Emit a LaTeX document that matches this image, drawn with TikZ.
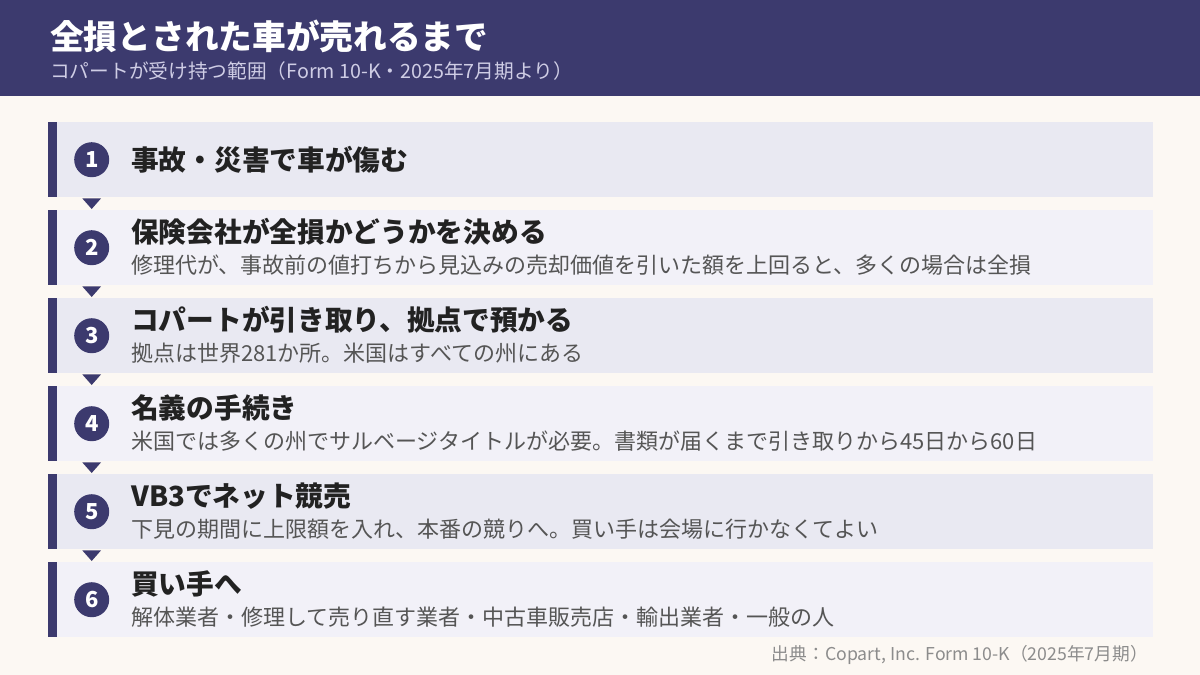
\documentclass[tikz,border=0pt]{standalone}
\usepackage{fontspec}
\setmainfont{Noto Sans CJK JP}
\usetikzlibrary{calc}
\definecolor{navy}{HTML}{3C3A6E}
\definecolor{rowA}{HTML}{E9E9F2}
\definecolor{rowB}{HTML}{F2F1F8}
\definecolor{bgc}{HTML}{FCF8F3}
\definecolor{hsub}{HTML}{CFCDE5}
\definecolor{ttlc}{HTML}{222222}
\definecolor{subc}{HTML}{555555}
\definecolor{footc}{HTML}{8C8C8C}
\tikzset{
  rowbox/.style={draw=none, rectangle, minimum width=1105, minimum height=75, anchor=north west, inner sep=0},
  numc/.style={circle, fill=navy, minimum size=35, inner sep=0, text=white, font=\bfseries\fontsize{22}{24}\selectfont},
  ttl/.style={anchor=west, inner sep=0, text=ttlc, font=\bfseries\fontsize{27.7}{32}\selectfont},
  subt/.style={anchor=west, inner sep=0, text=subc, font=\fontsize{22}{26}\selectfont},
  tri/.style={fill=navy}
}
\begin{document}
\begin{tikzpicture}[x=1pt,y=-1pt]
\useasboundingbox (0,0) rectangle (1200,675);
\fill[bgc] (0,0) rectangle (1200,675);
\fill[navy] (0,0) rectangle (1200,96);
\node[anchor=west, inner sep=0, text=white, font=\bfseries\fontsize{33.7}{40}\selectfont] (title) at (50,36) {全損とされた車が売れるまで};
\node[anchor=west, inner sep=0, text=hsub, font=\fontsize{19.7}{23}\selectfont] (subtitle) at (50,71) {コパートが受け持つ範囲（Form 10-K・2025年7月期より）};
% rows
\foreach \i/\c in {1/rowA,2/rowB,3/rowA,4/rowB,5/rowA,6/rowB}{
  \node[rowbox, fill=\c] (r\i) at (48,{122+88*(\i-1)}) {};
  \fill[navy] (r\i.north west) rectangle ($(r\i.south west)+(8.7,0)$);
  \node[numc] (c\i) at ($(r\i.west)+(43.7,0)$) {\i};
}
% connectors
\foreach \i [evaluate=\i as \j using int(\i+1)] in {1,...,5}{
  \fill[tri] ($(r\i.south west)+(34.3,1)$) -- ($(r\i.south west)+(53,1)$) -- ($(r\j.north west)+(43.7,-1)$) -- cycle;
}
% texts
\node[ttl] (t1) at ($(r1.west)+(83,0)$) {事故・災害で車が傷む};
\node[ttl] (t2) at ($(r2.north west)+(83,22)$) {保険会社が全損かどうかを決める};
\node[subt] (s2) at ($(r2.north west)+(83,55)$) {修理代が、事故前の値打ちから見込みの売却価値を引いた額を上回ると、多くの場合は全損};
\node[ttl] (t3) at ($(r3.north west)+(83,22)$) {コパートが引き取り、拠点で預かる};
\node[subt] (s3) at ($(r3.north west)+(83,55)$) {拠点は世界281か所。米国はすべての州にある};
\node[ttl] (t4) at ($(r4.north west)+(83,22)$) {名義の手続き};
\node[subt] (s4) at ($(r4.north west)+(83,55)$) {米国では多くの州でサルベージタイトルが必要。書類が届くまで引き取りから45日から60日};
\node[ttl] (t5) at ($(r5.north west)+(83,22)$) {VB3でネット競売};
\node[subt] (s5) at ($(r5.north west)+(83,55)$) {下見の期間に上限額を入れ、本番の競りへ。買い手は会場に行かなくてよい};
\node[ttl] (t6) at ($(r6.north west)+(83,22)$) {買い手へ};
\node[subt] (s6) at ($(r6.north west)+(83,55)$) {解体業者・修理して売り直す業者・中古車販売店・輸出業者・一般の人};
% footer
\node[anchor=east, inner sep=0, text=footc, font=\fontsize{17.7}{21}\selectfont] (foot) at (1148,655) {出典：Copart, Inc. Form 10-K（2025年7月期）};
\end{tikzpicture}
\end{document}
